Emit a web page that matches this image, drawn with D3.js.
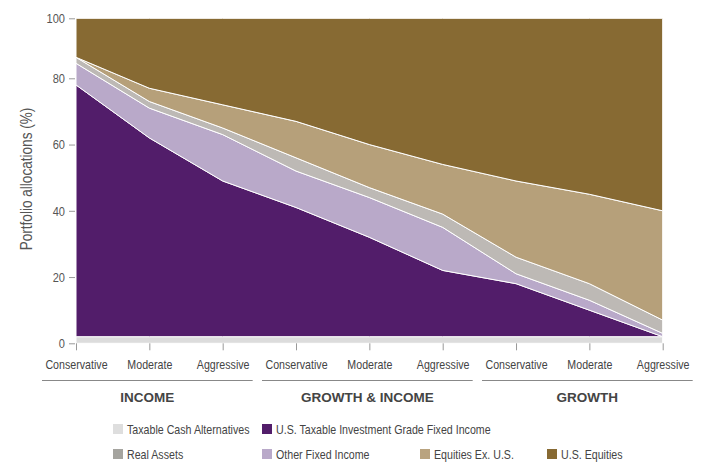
<!DOCTYPE html>
<html><head><meta charset="utf-8">
<script src="https://cdn.jsdelivr.net/npm/d3@7/dist/d3.min.js"></script>
<style>
body{margin:0;background:#fff;}
text{font-family:"Liberation Sans",Arial,sans-serif;}
</style></head>
<body><svg id="c" width="707" height="465"></svg>
<script>
// ---- data ----
const categories = ["Conservative","Moderate","Aggressive","Conservative","Moderate","Aggressive","Conservative","Moderate","Aggressive"];
const groups = ["INCOME","GROWTH & INCOME","GROWTH"];
const seriesNames = ["Taxable Cash Alternatives","U.S. Taxable Investment Grade Fixed Income","Other Fixed Income","Real Assets","Equities Ex. U.S.","U.S. Equities"];
const taxableCash   = [2, 2, 2, 2, 2, 2, 2, 2, 2];
const usTaxableIG   = [76, 60, 47, 39, 30, 20, 16, 8, 0];
const otherFixed    = [7, 9, 14, 11, 12, 13, 3, 3, 1];
const realAssets    = [2, 2, 2, 4, 3, 4, 5, 5, 4];
const equitiesExUS  = [0, 4, 7, 11, 13, 15, 23, 27, 33];
const usEquities    = [13, 23, 28, 33, 40, 46, 51, 55, 60];
const yTicks = [0, 20, 40, 60, 80, 100];

const areaColors   = ["#dcdcdc","#521d6a","#b9a9c9","#bdb9b5","#b6a07a","#876a33"];
const legendColors = ["#dedede","#521d6a","#b9a9c9","#a5a49f","#b9a37f","#876a33"];

const seriesVals = [taxableCash, usTaxableIG, otherFixed, realAssets, equitiesExUS, usEquities];
const keys = ["cash","usig","other","real","eqex","useq"];
const table = categories.map((c,i)=>{
  const row = {i};
  keys.forEach((k,j)=>row[k]=seriesVals[j][i]);
  return row;
});

const SX = 0.82; // horizontal condensing to mimic a condensed face

const svg = d3.select("#c");
const x = d3.scalePoint().domain(d3.range(categories.length)).range([76, 662.7]);
const y = d3.scaleLinear().domain([0, 80, 100]).range([343.3, 78.3, 18.3]);

const layers = d3.stack().keys(keys)(table);

const area = d3.area()
  .x(d=>x(d.data.i))
  .y0(d=>y(d[0]))
  .y1(d=>y(d[1]));

svg.append("g").selectAll("path").data(layers).join("path")
  .attr("d", area)
  .attr("fill", (d,i)=>areaColors[i])
  .attr("stroke", "#fff")
  .attr("stroke-width", 1)
  .attr("stroke-linejoin","round");

// y axis
const yAxis = svg.append("g").attr("transform","translate(75,0)")
  .call(d3.axisLeft(y).tickValues(yTicks).tickSize(6).tickPadding(4));
yAxis.select(".domain").remove();
yAxis.selectAll("line").attr("stroke","#999");
yAxis.selectAll("text").attr("fill","#555").style("font-size","13.5px")
  .attr("x", -10/SX).attr("transform",`scale(${SX},1)`);

// x axis
const xAxis = svg.append("g").attr("transform","translate(0,343.3)")
  .call(d3.axisBottom(x).tickSize(7).tickPadding(9).tickFormat(i=>categories[i]));
xAxis.select(".domain").remove();
xAxis.selectAll("line").attr("stroke","#999");
xAxis.selectAll("text").attr("fill","#444").style("font-size","13px")
  .attr("transform",`scale(${SX},1)`);

// y title
svg.append("text")
  .attr("transform","translate(32,179) rotate(-90) scale(0.85,1)")
  .attr("text-anchor","middle")
  .attr("fill","#555")
  .style("font-size","16px")
  .text("Portfolio allocations (%)");

// group labels
groups.forEach((g,gi)=>{
  const a = x(gi*3) - 34, b = x(gi*3+2) + 30;
  svg.append("line").attr("x1",a).attr("x2",b).attr("y1",380.5).attr("y2",380.5)
    .attr("stroke","#888").attr("stroke-width",1);
  svg.append("text").attr("x",(a+b)/2).attr("y",402)
    .attr("text-anchor","middle").attr("fill","#444")
    .style("font-weight","bold").style("font-size","13.5px")
    .text(g);
});

// legend
const legendPos = [[113,424],[262,424],[262,449],[113,449],[420,449],[547,449]];
seriesNames.forEach((n,i)=>{
  const [lx,ly] = legendPos[i];
  svg.append("rect").attr("x",lx).attr("y",ly).attr("width",10).attr("height",10)
    .attr("fill",legendColors[i]);
  svg.append("g").attr("transform",`translate(${lx+14},${ly+9.5})`)
    .append("text").attr("transform",`scale(${SX},1)`)
    .attr("fill","#444").style("font-size","13px").text(n);
});
</script></body></html>
